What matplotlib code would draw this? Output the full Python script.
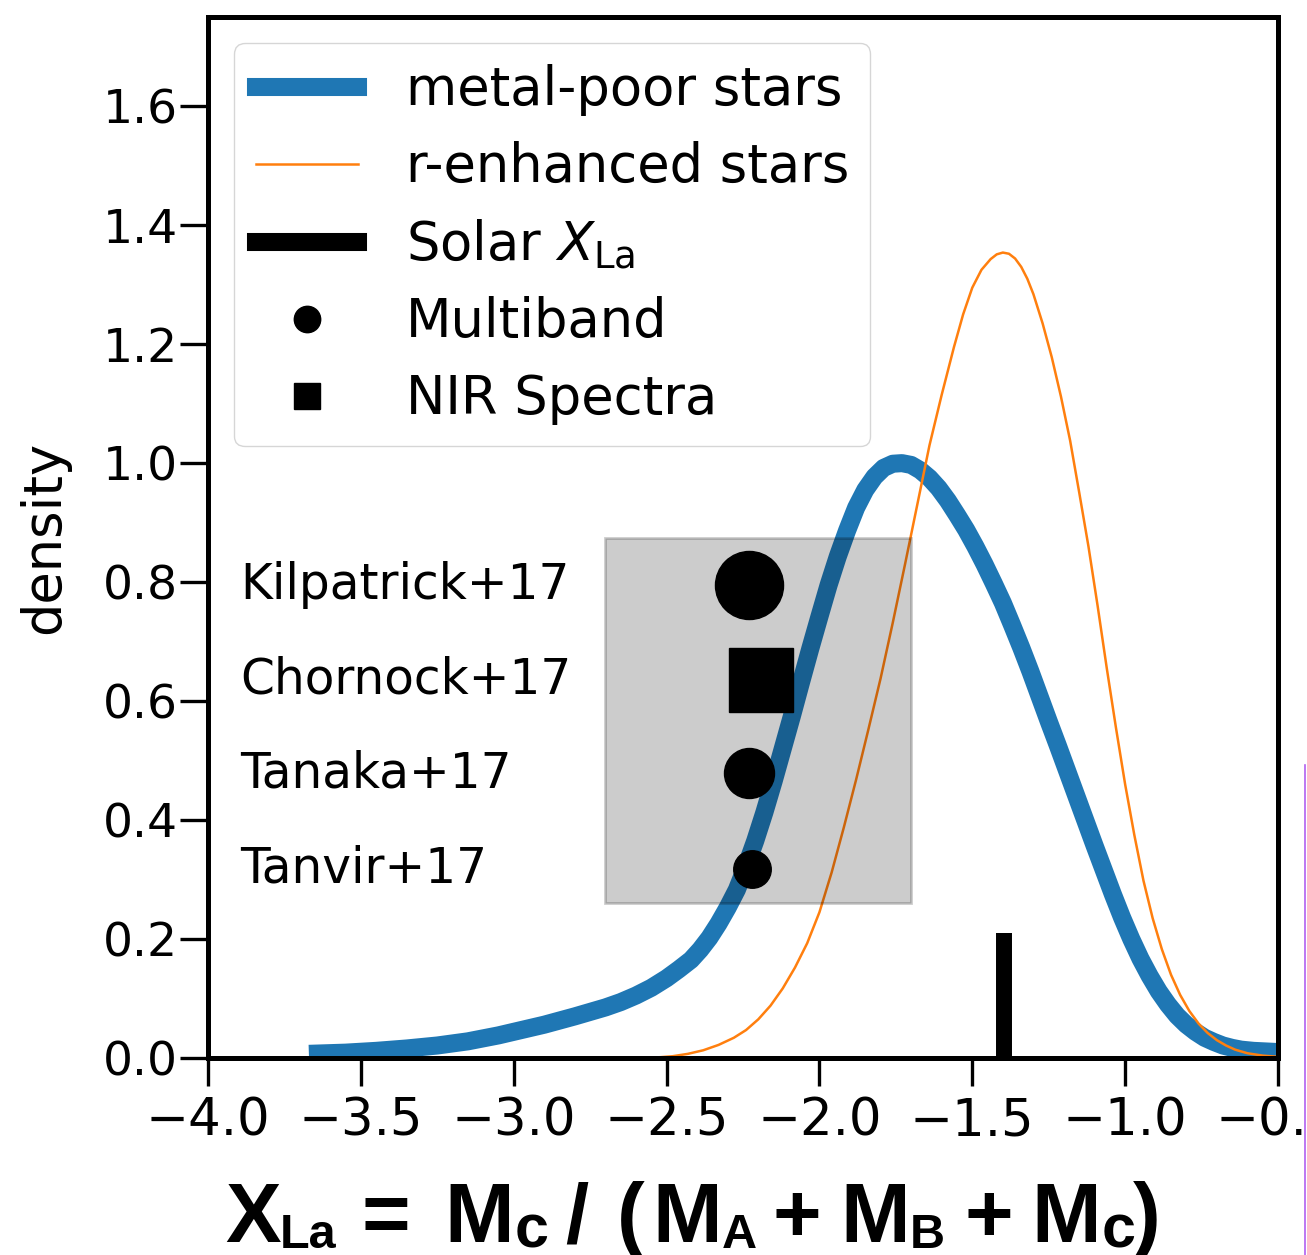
import matplotlib
matplotlib.use("Agg")
import matplotlib.pyplot as plt
from matplotlib.lines import Line2D
from matplotlib.patches import Rectangle

# kernel density of X_La for the two stellar samples
metal_poor_x = [-3.67, -3.55, -3.45, -3.35, -3.25, -3.15, -3.05, -3.00, -2.90, -2.80,
                -2.70, -2.65, -2.60, -2.55, -2.50, -2.46, -2.42, -2.39, -2.36, -2.33,
                -2.30, -2.27, -2.24, -2.21, -2.18, -2.15, -2.12, -2.09, -2.06, -2.03,
                -2.00, -1.97, -1.94, -1.91, -1.88, -1.85, -1.82, -1.79, -1.76, -1.73,
                -1.70, -1.67, -1.64, -1.61, -1.58, -1.55, -1.52, -1.49, -1.46, -1.43,
                -1.40, -1.37, -1.34, -1.31, -1.28, -1.25, -1.22, -1.19, -1.16, -1.13,
                -1.10, -1.07, -1.04, -1.01, -0.98, -0.95, -0.92, -0.89, -0.86, -0.83,
                -0.80, -0.77, -0.74, -0.71, -0.68, -0.65, -0.62, -0.58, -0.54, -0.50]
metal_poor_y = [0.007, 0.009, 0.012, 0.016, 0.021, 0.028, 0.038, 0.044, 0.056, 0.070,
                0.085, 0.094, 0.105, 0.118, 0.134, 0.149, 0.165, 0.182, 0.202, 0.226,
                0.253, 0.283, 0.322, 0.365, 0.413, 0.465, 0.520, 0.575, 0.632, 0.688,
                0.742, 0.795, 0.843, 0.886, 0.925, 0.955, 0.977, 0.992, 0.999, 1.000,
                0.997, 0.988, 0.975, 0.958, 0.937, 0.913, 0.888, 0.860, 0.830, 0.798,
                0.765, 0.728, 0.690, 0.650, 0.608, 0.566, 0.525, 0.483, 0.441, 0.399,
                0.357, 0.316, 0.275, 0.236, 0.200, 0.167, 0.138, 0.112, 0.090, 0.071,
                0.056, 0.044, 0.034, 0.027, 0.021, 0.017, 0.014, 0.012, 0.011, 0.010]

r_enhanced_x = [-2.53, -2.48, -2.43, -2.38, -2.33, -2.28, -2.24, -2.20, -2.16, -2.12,
                -2.08, -2.04, -2.00, -1.96, -1.92, -1.88, -1.84, -1.80, -1.76, -1.72,
                -1.68, -1.64, -1.60, -1.56, -1.53, -1.50, -1.47, -1.44, -1.42, -1.40,
                -1.38, -1.36, -1.34, -1.32, -1.30, -1.27, -1.24, -1.21, -1.18, -1.15,
                -1.12, -1.09, -1.06, -1.03, -1.00, -0.97, -0.94, -0.91, -0.88, -0.85,
                -0.82, -0.79, -0.76, -0.73, -0.70, -0.67, -0.64, -0.60, -0.55, -0.50]
r_enhanced_y = [0.001, 0.003, 0.007, 0.013, 0.022, 0.034, 0.047, 0.065, 0.088, 0.117,
                0.152, 0.193, 0.245, 0.312, 0.388, 0.468, 0.552, 0.638, 0.732, 0.830,
                0.930, 1.030, 1.115, 1.195, 1.250, 1.295, 1.325, 1.343, 1.351, 1.354,
                1.352, 1.344, 1.330, 1.310, 1.284, 1.235, 1.178, 1.112, 1.038, 0.950,
                0.860, 0.760, 0.655, 0.555, 0.460, 0.375, 0.298, 0.235, 0.183, 0.140,
                0.106, 0.079, 0.058, 0.042, 0.030, 0.021, 0.014, 0.008, 0.004, 0.002]

solar_xla = -1.395
solar_height = 0.21

# kilonova estimates
kn_labels = ["Kilpatrick+17", "Chornock+17", "Tanaka+17", "Tanvir+17"]
kn_xla = [-2.23, -2.19, -2.23, -2.22]
kn_row = [0.795, 0.636, 0.479, 0.318]
kn_marker = ["o", "s", "o", "o"]
kn_size = [49, 46, 36, 27]
kn_label_x = -3.895
kn_box_x = (-2.70, -1.70)
kn_box_y = (0.26, 0.875)

W, H = 1307, 1255
fig = plt.figure(figsize=(W / 100, H / 100), dpi=100)
ax = fig.add_axes([208 / W, 1 - 1058 / H, 1070 / W, 1041 / H])

ax.plot(metal_poor_x, metal_poor_y, color="#1f77b4", lw=13,
        solid_joinstyle="round", solid_capstyle="butt", zorder=2)
ax.plot(r_enhanced_x, r_enhanced_y, color="#ff7f0e", lw=1.8,
        solid_joinstyle="round", zorder=2)
ax.plot([solar_xla, solar_xla], [0, solar_height], color="k", lw=11.5,
        solid_capstyle="butt", zorder=2)

ax.add_patch(Rectangle((kn_box_x[0], kn_box_y[0]), kn_box_x[1] - kn_box_x[0],
                       kn_box_y[1] - kn_box_y[0], facecolor="k", edgecolor="k",
                       alpha=0.2, lw=2, zorder=3))

for lab, xv, yv, m, s in zip(kn_labels, kn_xla, kn_row, kn_marker, kn_size):
    ax.plot(xv, yv, marker=m, ms=s, color="k", ls="none", zorder=4)
    ax.text(kn_label_x, yv, lab, fontsize=35, va="center", ha="left")

ax.set_xlim(-4.0, -0.5)
ax.set_ylim(0, 1.75)
ax.set_xticks([-4.0, -3.5, -3.0, -2.5, -2.0, -1.5, -1.0, -0.5])
ax.set_yticks([0.0, 0.2, 0.4, 0.6, 0.8, 1.0, 1.2, 1.4, 1.6])
ax.tick_params(axis="both", length=20, width=2.4, direction="out")
ax.tick_params(axis="x", labelsize=37, pad=8)
ax.tick_params(axis="y", labelsize=34, pad=1.5)
for sp in ax.spines.values():
    sp.set_linewidth(3.6)

ax.set_ylabel("density", fontsize=38)
ax.yaxis.set_label_coords(-0.129, 0.5)

handles = [
    Line2D([], [], color="#1f77b4", lw=13),
    Line2D([], [], color="#ff7f0e", lw=1.8),
    Line2D([], [], color="k", lw=13),
    Line2D([], [], color="k", marker="o", ms=19, ls="none"),
    Line2D([], [], color="k", marker="s", ms=19, ls="none"),
]
names = ["metal-poor stars", "r-enhanced stars", r"Solar $X_{\rm La}$",
         "Multiband", "NIR Spectra"]
ax.legend(handles, names, loc="upper left", fontsize=38, labelspacing=0.47,
          handlelength=1.95, handletextpad=0.9)

# x-axis label set piece by piece in a heavy sans
bold = dict(family="Liberation Sans", weight="bold", va="baseline", ha="left")
main_base = 1 - 1242 / H
sub_base = 1 - 1248 / H
main_pieces = [("X", 225), ("=", 362), ("M", 444), ("/", 565), ("(", 617),
               ("M", 652), ("+", 772), ("M", 840), ("+", 964), ("M", 1031), (")", 1133)]
sub_pieces = [("La", 280, 35), ("c", 515, 44), ("A", 722, 35), ("B", 910, 35), ("c", 1102, 44)]
for s, xp in main_pieces:
    fig.text(xp / W, main_base, s, fontsize=60, **bold)
for s, xp, fs in sub_pieces:
    fig.text(xp / W, sub_base, s, fontsize=fs, **bold)

fig.add_artist(Line2D([1305 / W, 1305 / W], [0, 1 - 765 / H], color="#b060f0", lw=1.2))

fig.savefig("out.png", dpi=100)
